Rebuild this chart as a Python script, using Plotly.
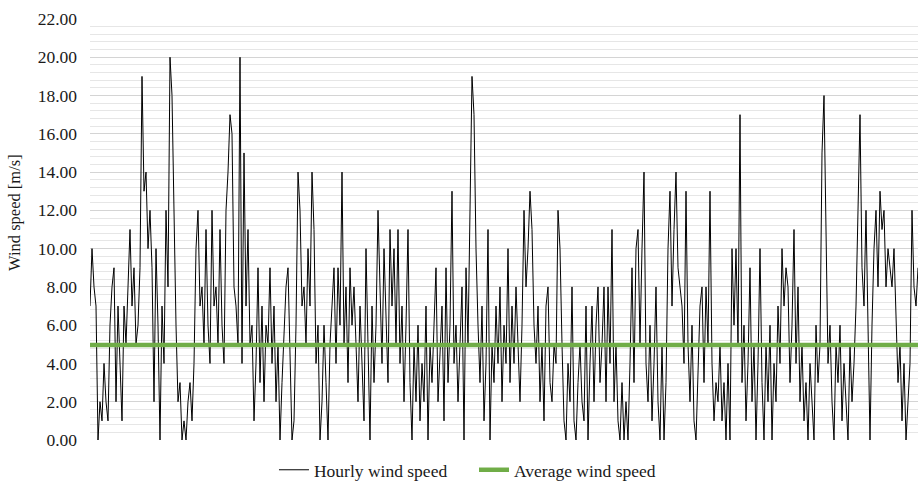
import plotly.graph_objects as go

# Hourly wind speed [m/s] (left to right)
seg_a = [7, 10, 8, 7, 0, 2, 1, 4, 2, 1, 6, 8, 9, 2, 7, 4, 1, 7, 5, 8,
         11, 7, 9, 5, 6, 9, 19, 13, 14, 10, 12, 9, 2, 10, 6, 0, 7, 4, 12, 8,
         20, 18, 11, 6, 2, 3, 0, 1, 0, 2]
seg_b = [3, 1, 4, 10, 12, 7, 8, 5, 11, 6, 4, 12, 7, 8, 5, 11, 6, 4, 12, 14,
         17, 16, 8, 7, 5, 20, 4, 15, 7, 11, 5, 6, 1, 4, 9, 3, 7, 2, 6, 5,
         9, 4, 7, 2, 5, 0, 3, 6, 8, 9]
seg_c = [4, 0, 1, 6, 14, 12, 7, 8, 5, 10, 7, 14, 11, 4, 6, 0, 2, 6, 3, 0,
         5, 7, 9, 4, 9, 6, 14, 5, 8, 3, 9, 6, 8, 5, 2, 7, 4, 1, 10, 5,
         0, 7, 3, 6, 12, 8, 4, 10, 6, 3]
seg_d = [11, 7, 10, 5, 11, 4, 7, 2, 6, 11, 3, 0, 5, 2, 6, 1, 4, 2, 7, 0,
         5, 3, 6, 9, 2, 5, 7, 1, 9, 3, 6, 13, 4, 6, 2, 5, 8, 0, 9, 5,
         12, 19, 17, 10, 6, 3, 7, 1, 4, 11]
seg_e = [0, 5, 3, 7, 4, 8, 2, 6, 4, 10, 3, 7, 4, 8, 5, 2, 6, 12, 8, 10,
         13, 11, 6, 4, 7, 2, 5, 1, 7, 8, 3, 2, 5, 4, 12, 10, 5, 1, 0, 4,
         2, 8, 1, 0, 3, 5, 2, 1, 7, 0]
seg_f = [4, 7, 2, 6, 8, 3, 5, 8, 2, 8, 4, 11, 2, 5, 1, 0, 3, 0, 2, 0,
         4, 9, 3, 10, 11, 5, 10, 14, 4, 2, 6, 1, 4, 8, 2, 0, 5, 0, 3, 10,
         13, 7, 11, 14, 9, 8, 7, 4, 13, 5]
seg_g = [2, 6, 1, 0, 4, 7, 8, 3, 8, 5, 13, 4, 1, 3, 2, 5, 1, 3, 0, 4,
         0, 10, 6, 10, 5, 17, 3, 6, 1, 4, 9, 2, 5, 0, 4, 10, 3, 0, 5, 2,
         6, 0, 4, 2, 7, 4, 10, 7, 9, 8]
seg_h = [3, 6, 11, 4, 8, 2, 5, 1, 3, 0, 4, 2, 0, 6, 3, 5, 15, 18, 10, 4,
         6, 2, 0, 5, 3, 6, 1, 4, 2, 0, 5, 2, 4, 7, 12]
seg_i = [17, 9, 7, 12, 5, 0, 6, 10, 12, 8, 13, 11, 12, 8, 10, 9, 8, 10, 6, 3,
         5, 1, 4, 0, 2, 4, 12, 8, 7, 9]

average_speed = 4.96

hourly = seg_a + seg_b + seg_c + seg_d + seg_e + seg_f + seg_g + seg_h + seg_i
hours = list(range(len(hourly)))

y_ticks = [0, 2, 4, 6, 8, 10, 12, 14, 16, 18, 20, 22]
y_tick_labels = [f"{v:.2f}" for v in y_ticks]

FONT = "Liberation Serif, Tinos, DejaVu Serif, serif"
TXT = "#1a1a1a"

fig = go.Figure()
fig.add_trace(go.Scatter(
    x=hours, y=hourly, mode="lines", name="Hourly wind speed",
    line=dict(color="#000000", width=1),
))
fig.add_trace(go.Scatter(
    x=[hours[0], hours[-1]], y=[average_speed, average_speed], mode="lines",
    name="Average wind speed",
    line=dict(color="#70AD47", width=4.5),
))

fig.update_layout(
    width=919, height=481,
    margin=dict(l=90, r=1, t=19, b=41, autoexpand=False),
    paper_bgcolor="white", plot_bgcolor="white",
    font=dict(family=FONT, size=17.5, color=TXT),
    showlegend=True,
    legend=dict(
        orientation="h", x=0.2222, xanchor="left", y=-0.071, yanchor="middle",
        font=dict(family=FONT, size=17.5, color=TXT),
        itemwidth=30, entrywidth=155, entrywidthmode="pixels",
        bgcolor="rgba(0,0,0,0)",
    ),
    annotations=[dict(
        text="Wind speed [m/s]", xref="paper", yref="paper",
        x=-0.0906, y=0.5416, xanchor="center", yanchor="middle",
        textangle=-90, showarrow=False,
        font=dict(family=FONT, size=16.5, color=TXT),
    )],
)
fig.update_xaxes(
    range=[hours[0], hours[-1]], showticklabels=False, showgrid=False,
    zeroline=False, showline=False, ticks="",
)
fig.update_yaxes(
    range=[0, 22], tickvals=y_ticks, ticktext=y_tick_labels,
    showgrid=True, gridcolor="#d4d4d4", gridwidth=1,
    minor=dict(dtick=0.4, showgrid=True, gridcolor="#e6e6e6", gridwidth=1),
    zeroline=False, showline=False, ticks="", ticklabelstandoff=12,
    tickfont=dict(family=FONT, size=17.5, color=TXT),
)

fig.write_html("out.html")
